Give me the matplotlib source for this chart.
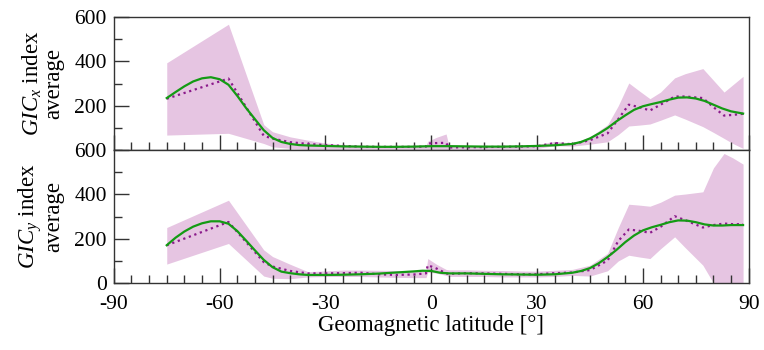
import numpy as np
import matplotlib
matplotlib.use("Agg")
import matplotlib.pyplot as plt
from matplotlib.ticker import MultipleLocator

plt.rcParams['font.family'] = ['Liberation Serif', 'DejaVu Serif']
plt.rcParams['mathtext.fontset'] = 'custom'
plt.rcParams['mathtext.rm'] = 'Liberation Serif'
plt.rcParams['mathtext.it'] = 'Liberation Serif:italic'

# station-bin latitudes (dotted line and spread band)
lat = [-75, -57.5, -47.5, -45, -40, -35, -30, -25, -20, -15, -10, -5, -1.5, -1,
       1.5, 4.2, 5, 10, 15, 20, 25, 30, 35, 40, 45, 50, 53, 56, 59, 62, 65, 69,
       72, 77, 80, 83, 85.5, 88.4]

# GIC_x
avg_x = [232, 323, 65, 52, 36, 28, 23, 19, 16, 15, 15, 15, 16, 30,
         32, 33, 12, 13, 14, 15, 16, 18, 32, 27, 45, 76, 140, 205, 194, 179, 205, 242,
         242, 235, 194, 156, 159, 164]
up_x = [394, 568, 115, 83, 60, 45, 32, 25, 22, 20, 20, 20, 22, 40,
        58, 73, 20, 18, 18, 20, 22, 25, 40, 32, 60, 115, 200, 303, 267, 232, 262, 326,
        345, 368, 315, 262, 295, 333]
lo_x = [68, 76, 30, 15, 8, 5, 5, 5, 5, 5, 5, 5, 5, 5,
        5, 5, 5, 5, 5, 5, 6, 8, 20, 18, 27, 38, 70, 109, 113, 118, 135, 159,
        140, 106, 80, 53, 30, 8]

# GIC_y
avg_y = [171, 276, 95, 75, 55, 44, 44, 45, 47, 40, 37, 39, 44, 81,
         66, 44, 42, 45, 44, 42, 40, 40, 45, 48, 59, 102, 190, 242, 236, 227, 254, 302,
         284, 251, 262, 269, 266, 266]
up_y = [251, 374, 150, 120, 85, 52, 55, 59, 59, 58, 57, 56, 56, 111,
        85, 62, 60, 60, 58, 57, 55, 54, 58, 62, 81, 135, 250, 356, 352, 347, 365, 397,
        402, 412, 520, 585, 565, 537]
lo_y = [86, 179, 32, 22, 20, 28, 30, 30, 30, 28, 26, 25, 25, 50,
        45, 35, 30, 30, 30, 28, 28, 28, 30, 35, 32, 56, 100, 126, 118, 111, 155, 209,
        160, 81, 0, 0, 0, 0]

# smoothed curves
lat_fit = [-75, -72.5, -70, -67.5, -65, -62.5, -60, -57.5, -55, -52.5, -50, -47.5,
           -45, -42.5, -40, -37.5, -35, -30, -25, -20, -15, -10, -5, -2.5, 0, 2.5,
           5, 10, 15, 20, 25, 30, 35, 40, 42.5, 45, 47.5, 50, 52.5, 55, 57.5, 60,
           62.5, 65, 67.5, 70, 72.5, 75, 77.5, 80, 82.5, 85, 88.4]
fit_x = [235, 262, 288, 310, 324, 329, 320, 295, 245, 190, 140, 90,
         55, 37, 28, 23, 21, 19, 17, 16, 15, 15, 16, 17, 18, 18,
         18, 17, 16, 16, 17, 19, 22, 28, 37, 53, 75, 100, 130, 157, 182, 198,
         208, 217, 228, 237, 238, 233, 222, 205, 188, 175, 165]
fit_y = [171, 205, 233, 255, 270, 279, 279, 268, 235, 192, 148, 105,
         72, 52, 45, 40, 37, 37, 38, 40, 43, 48, 53, 56, 55, 47,
         44, 44, 42, 40, 39, 38, 40, 47, 55, 68, 90, 118, 150, 185, 215, 238,
         252, 263, 275, 283, 282, 275, 265, 260, 260, 262, 262]

band_c = '#e6c5e2'
dot_c = '#8b1a8b'
fit_c = '#149b14'

fig, axes = plt.subplots(2, 1, figsize=(7.64, 3.5), dpi=100, sharex=True)
fig.subplots_adjust(left=0.149, right=0.980, top=0.951, bottom=0.191, hspace=0)

panels = [(axes[0], avg_x, up_x, lo_x, fit_x, '$GIC_x$ index\naverage'),
          (axes[1], avg_y, up_y, lo_y, fit_y, '$GIC_y$ index\naverage')]
for ax, avg, up, lo, fit, lab in panels:
    ax.fill_between(lat, lo, up, color=band_c, lw=0)
    ax.plot(lat, avg, ls=':', color=dot_c, lw=1.6)
    ax.plot(lat_fit, fit, color=fit_c, lw=1.6)
    ax.set_xlim(-90, 90)
    ax.set_ylim(0, 600)
    ax.yaxis.set_major_locator(MultipleLocator(200))
    ax.yaxis.set_minor_locator(MultipleLocator(100))
    ax.xaxis.set_major_locator(MultipleLocator(30))
    ax.xaxis.set_minor_locator(MultipleLocator(5))
    ax.tick_params(which='both', direction='in', top=False, right=False,
                   labelsize=15.5, color='#333333')
    ax.tick_params(which='major', length=11, width=1)
    ax.tick_params(which='minor', length=5.5, width=1)
    ax.tick_params(axis='x', pad=8.5)
    ax.tick_params(axis='y', pad=5)
    for s in ax.spines.values():
        s.set_color('#333333')
        s.set_linewidth(1)
    ax.set_ylabel(lab, fontsize=16.5, linespacing=1.0, labelpad=7)

axes[0].set_yticks([200, 400, 600])
axes[0].tick_params(labelbottom=False)
axes[1].set_yticks([0, 200, 400, 600])
axes[1].set_xticks([-90, -60, -30, 0, 30, 60, 90])
axes[1].set_xticklabels(['-90', '-60', '-30', '0', '30', '60', '90'])
axes[1].set_xlabel('Geomagnetic latitude [°]', fontsize=16.5, labelpad=1)
fig.align_ylabels(axes)

fig.savefig('out.png', dpi=100)
